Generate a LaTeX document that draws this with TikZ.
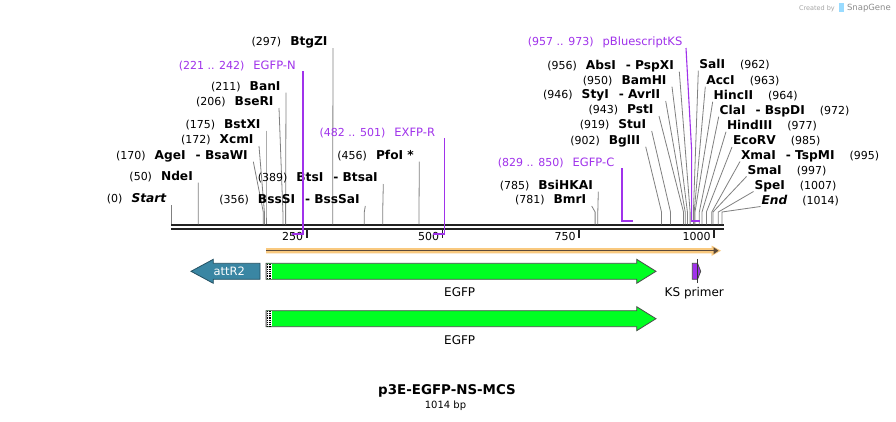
\documentclass[tikz,border=0pt]{standalone}
\usepackage{fontspec}
\setmainfont{DejaVu Sans}
\usetikzlibrary{arrows.meta}
\definecolor{prim}{RGB}{160,50,235}
\definecolor{cutgray}{RGB}{128,128,128}
\definecolor{gfp}{RGB}{0,255,34}
\definecolor{attc}{RGB}{58,134,163}
\definecolor{orfo}{RGB}{249,201,127}
\definecolor{orfd}{RGB}{92,74,58}
\definecolor{bb}{RGB}{34,34,34}
\newcommand{\nm}[1]{{\fontsize{12.2}{14}\selectfont\bfseries #1}}
\newcommand{\nb}[1]{{\fontsize{11}{13}\selectfont #1}}
\newcommand{\ft}[1]{{\fontsize{11.5}{13}\selectfont #1}}
% left-labelled cut site: id, number, name, line start x, line start y, site x
\newcommand{\lcut}[6]{%
  \node[lab, anchor=base east] (#1) at (#4-5.5,#5-2.3) {\nb{(#2)}\hspace{9pt}\nm{#3}};
  \coordinate (#1s) at (#4,#5);
  \coordinate (#1b) at (#6,212);
  \coordinate (#1e) at (#6,224.3);
  \draw[cutline] (#1s) -- (#1b) -- (#1e);
}
% right-labelled cut site
\newcommand{\rcut}[6]{%
  \node[lab, anchor=base west] (#1) at (#4+1,#5-2.4) {\nm{#3}\hspace{15pt}\nb{(#2)}};
  \coordinate (#1s) at (#4,#5);
  \coordinate (#1b) at (#6,212);
  \coordinate (#1e) at (#6,224.3);
  \draw[cutline] (#1s) -- (#1b) -- (#1e);
}
\begin{document}
\begin{tikzpicture}[x=1pt,y=-1pt,
  cutline/.style={draw=cutgray,line width=0.8pt},
  lab/.style={inner sep=0pt,outer sep=0pt},
  primline/.style={draw=prim,line width=1.1pt},
  primbar/.style={draw=prim,line width=2.4pt},
  featbox/.style={draw=black!70,line width=0.8pt},
  ticklab/.style={lab,anchor=base east,font=\fontsize{11}{13}\selectfont},
  tickmark/.style={draw=bb,line width=1.8pt}]
\useasboundingbox[fill=white] (0,0) rectangle (896,421);

% watermark
\node[lab,anchor=base west,text=black!35,font=\fontsize{6.5}{8}\selectfont] (cb) at (799,10) {Created by};
\fill[blue!35!cyan!40] (839,3) rectangle (844,12);
\node[lab,anchor=base west,text=black!45,font=\fontsize{8.5}{10}\selectfont] (sg) at (847,10.5) {SnapGene};

% backbone
\coordinate (bbl) at (171,225.3);
\coordinate (bbr) at (724,225.3);
\coordinate (bbl2) at (171,229);
\coordinate (bbr2) at (724,229);
\draw[bb,line width=2pt] (bbl) -- (bbr);
\draw[bb,line width=2.6pt] (bbl2) -- (bbr2);

% ticks
\foreach \p/\xx in {250/306.7,500/442.5,750/579,1000/714}{
  \draw[tickmark] (\xx,230) -- (\xx,238);
  \node[ticklab] (t\p) at (\xx-3.5,240.4) {\p};
}

% left-labelled sites
\lcut{start}{0}{\itshape Start}{171.7}{205}{171.7}
\lcut{nde}{50}{NdeI}{198.3}{182.7}{198.2}
\lcut{age}{170}{AgeI\hspace{10pt}- BsaWI}{253.3}{161.7}{263.3}
\lcut{xcm}{172}{XcmI}{259}{146}{264.4}
\lcut{bstx}{175}{BstXI}{266}{130.7}{266}
\lcut{bser}{206}{BseRI}{279}{108}{282.9}
\lcut{ban}{211}{BanI}{286}{92.7}{285.6}
\lcut{btgz}{297}{BtgZI}{333}{48}{332.7}
\lcut{bsss}{356}{BssSI\hspace{10pt}- BssSaI}{365.3}{206}{364.3}
\lcut{bts}{389}{BtsI\hspace{10pt}- BtsaI}{383.3}{184}{382.7}
\lcut{pfo}{456}{PfoI *}{419.3}{161.7}{419}
\lcut{bmr}{781}{BmrI}{591.7}{206}{595.1}
\lcut{bsih}{785}{BsiHKAI}{598.3}{191.7}{597.8}
\lcut{bgl}{902}{BglII}{645.7}{146.7}{661.5}
\lcut{stu}{919}{StuI}{651.7}{131}{670.5}
\lcut{pst}{943}{PstI}{659}{116}{683.5}
\lcut{sty}{946}{StyI\hspace{10pt}- AvrII}{665.7}{101}{685.2}
\lcut{bam}{950}{BamHI}{672}{86.7}{687.4}
\lcut{abs}{956}{AbsI\hspace{10pt}- PspXI}{679.3}{71.7}{690.1}

% right-labelled sites
\rcut{sal}{962}{SalI}{698.3}{70.7}{693.4}
\rcut{acc}{963}{AccI}{705.3}{86.7}{694.2}
\rcut{hinc}{964}{HincII}{712.7}{101.7}{695}
\rcut{cla}{972}{ClaI\hspace{10pt}- BspDI}{718.7}{116.7}{699.3}
\rcut{hind}{977}{HindIII}{726}{131.7}{702}
\rcut{eco}{985}{EcoRV}{732}{147}{706.4}
\rcut{xma}{995}{XmaI\hspace{10pt}- TspMI}{740}{161.5}{711.8}
\rcut{sma}{997}{SmaI}{746.5}{176.5}{713}
\rcut{spe}{1007}{SpeI}{753.5}{191.5}{718.3}
\rcut{endc}{1014}{\itshape End}{760.5}{206.5}{722}

% primer binding sites
\node[lab,anchor=base east,text=prim] (egfpn) at (295.7,69) {\nb{(221 .. 242)}\hspace{9pt}\ft{EGFP-N}};
\coordinate (egfpnt) at (303,71);
\coordinate (egfpnb) at (303,234);
\coordinate (egfpnl) at (291.7,234);
\draw[primline] (egfpnt) -- (egfpnb);
\draw[primbar] (egfpnl) -- ([xshift=0.55pt]egfpnb);

\node[lab,anchor=base east,text=prim] (exfpr) at (435,136) {\nb{(482 .. 501)}\hspace{9pt}\ft{EXFP-R}};
\coordinate (exfprt) at (444.3,138.3);
\coordinate (exfprb) at (444.3,234);
\coordinate (exfprl) at (433,234);
\draw[primline] (exfprt) -- (exfprb);
\draw[primbar] (exfprl) -- ([xshift=0.55pt]exfprb);

\node[lab,anchor=base east,text=prim] (egfpc) at (614.3,166) {\nb{(829 .. 850)}\hspace{9pt}\ft{EGFP-C}};
\coordinate (egfpct) at (622,168);
\coordinate (egfpcb) at (622,220.7);
\coordinate (egfpcr) at (632.7,220.7);
\draw[primline] (egfpct) -- (egfpcb);
\draw[primbar] ([xshift=-0.55pt]egfpcb) -- (egfpcr);

\node[lab,anchor=base east,text=prim] (pbks) at (682.3,45.7) {\nb{(957 .. 973)}\hspace{9pt}\ft{pBluescriptKS}};
\coordinate (pbkst) at (686,48);
\coordinate (pbksm) at (691.6,150);
\coordinate (pbksb) at (691.6,220.7);
\coordinate (pbksr) at (700,220.7);
\draw[primline] (pbkst) -- (pbksm) -- (pbksb);
\draw[primbar] ([xshift=-0.55pt]pbksb) -- (pbksr);

% ORF arrow
\fill[orfo] (266,248.2) -- (711.5,248.2) -- (711.5,245.5) -- (721,250.7) -- (711.5,256) -- (711.5,253.3) -- (266,253.3) -- cycle;
\coordinate (orfl) at (266,250.7);
\coordinate (orfr) at (714,250.7);
\draw[orfd,line width=1.5pt] (orfl) -- (orfr);
\fill[orfd] (713.5,247.2) -- (718.5,250.7) -- (713.5,254.2) -- cycle;

% attR2
\draw[featbox,fill=attc,draw=attc!60!black] (191,271.3) -- (213.3,259.3) -- (213.3,263.3) -- (260,263.3) -- (260,279.3) -- (213.3,279.3) -- (213.3,283.3) -- cycle;
\node[lab,anchor=base,text=white,font=\fontsize{11.5}{13}\selectfont] (attr) at (229.2,275.5) {attR2};

% EGFP arrows
\foreach \dy/\nn in {0/egfpa,47.4/egfpb}{
  \draw[featbox,fill=gfp] (266,263.3+\dy) -- (636.7,263.3+\dy) -- (636.7,259.3+\dy) -- (656,271.3+\dy) -- (636.7,283.3+\dy) -- (636.7,279.3+\dy) -- (266,279.3+\dy) -- cycle;
  \fill[white] (266.4,263.7+\dy) rectangle (271.7,278.9+\dy);
  \foreach \cx in {267.3,269.1,270.9}{
    \draw[black,line width=0.9pt,dash pattern=on 0.9pt off 0.9pt] (\cx,263.7+\dy) -- (\cx,278.9+\dy);
  }
  \draw[black!70,line width=0.8pt] (266,263.3+\dy) rectangle (266,279.3+\dy);
  \node[lab,anchor=base,font=\fontsize{12}{14}\selectfont] (\nn) at (459.7,296.7+\dy) {EGFP};
}

% KS primer
\draw[featbox,fill=prim,draw=black!70] (692.3,263.3) -- (697.5,263.3) -- (700.7,271.3) -- (697.5,279.3) -- (692.3,279.3) -- cycle;
\coordinate (kst) at (697.3,259);
\coordinate (ksb) at (697.3,283.3);
\draw[black!80,line width=0.8pt] (kst) -- (ksb);
\node[lab,anchor=base,font=\fontsize{12}{14}\selectfont] (ksl) at (694.3,296.7) {KS primer};

% title
\node[lab,anchor=base,font=\fontsize{13.4}{16}\selectfont\bfseries] (title) at (447,394.3) {p3E-EGFP-NS-MCS};
\node[lab,anchor=base,font=\fontsize{10}{12}\selectfont] (bp) at (445.5,408.5) {1014 bp};
\end{tikzpicture}
\end{document}
